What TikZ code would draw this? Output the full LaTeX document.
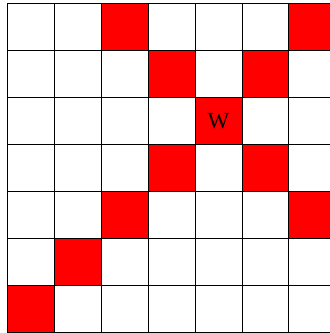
\documentclass[tikz,border=0pt]{standalone}
\usepackage{fontspec}
\setmainfont{Liberation Serif}
\begin{document}
\begin{tikzpicture}[x=1cm,y=1cm,
  cell/.style={draw=black,line width=0.6pt,minimum size=1cm,inner sep=0pt,anchor=center},
  redcell/.style={cell,fill=red},
  whitecell/.style={cell,fill=white}]
\useasboundingbox[fill=white] (-0.16,-0.015) rectangle (6.86,7.085);
\foreach \r in {0,...,6}{
  \foreach \c in {0,...,6}{
    \node[whitecell] (c-\r-\c) at (\c+0.5,6.5-\r) {};
  }
}
\foreach \r/\c in {0/2,0/6,1/3,1/5,2/4,3/3,3/5,4/2,4/6,5/1,6/0}{
  \node[redcell] (r-\r-\c) at (\c+0.5,6.5-\r) {};
}
\node[font=\fontsize{14}{16}\selectfont] (w) at (r-2-4) {W};
\end{tikzpicture}
\end{document}
